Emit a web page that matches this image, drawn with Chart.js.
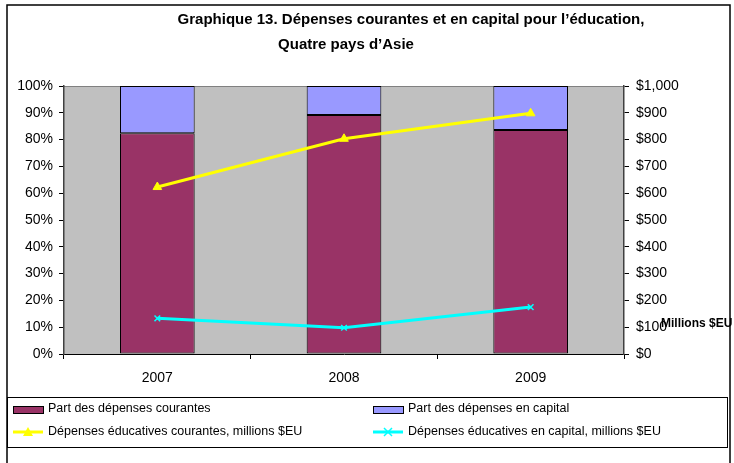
<!DOCTYPE html>
<html><head><meta charset="utf-8">
<script src="https://cdn.jsdelivr.net/npm/chart.js@4/dist/chart.umd.min.js"></script>
<style>html,body{margin:0;padding:0;background:#fff}#w{position:relative;width:734px;height:463px}</style>
</head><body><div id="w"><canvas id="c" width="734" height="463"></canvas></div>
<script>
const years = ['2007', '2008', '2009'];
const shareCurrent = [82.4, 89.2, 83.6];
const shareCapital = [17.6, 10.8, 16.4];
const spendCurrent = [623, 803, 898];
const spendCapital = [133, 98, 175];
const titleLines = ['Graphique 13. Dépenses courantes et en capital pour l\u2019éducation,', 'Quatre pays d\u2019Asie'];
const seriesLabels = ['Part des dépenses courantes', 'Part des dépenses en capital', 'Dépenses éducatives courantes, millions $EU', 'Dépenses éducatives en capital, millions $EU'];
const rightAxisTitle = 'Millions $EU';

const FONT = "'Liberation Sans', Arial, sans-serif";

const decor = {
  id: 'decor',
  beforeDraw(chart) {
    const {ctx, chartArea: a} = chart;
    ctx.save();
    ctx.fillStyle = '#C0C0C0';
    ctx.fillRect(a.left, a.top, a.right - a.left, a.bottom - a.top);
    ctx.strokeStyle = '#808080';
    ctx.lineWidth = 1;
    ctx.beginPath();
    ctx.moveTo(a.left, a.top + 0.5);
    ctx.lineTo(a.right, a.top + 0.5);
    ctx.stroke();
    ctx.restore();
  },
  afterDraw(chart) {
    const {ctx} = chart;
    ctx.save();
    // outer frame
    ctx.strokeStyle = '#000';
    ctx.lineWidth = 1.5;
    ctx.strokeRect(7, 5, 723, 500);
    // title
    ctx.fillStyle = '#000';
    ctx.font = 'bold 15px ' + FONT;
    ctx.textBaseline = 'middle';
    ctx.textAlign = 'center';
    ctx.fillText(titleLines[0], 411, 20);
    ctx.fillText(titleLines[1], 346, 45);
    // right axis title
    ctx.font = 'bold 12px ' + FONT;
    ctx.textAlign = 'left';
    ctx.fillText(rightAxisTitle, 661, 324);
    // legend box
    ctx.lineWidth = 1;
    ctx.strokeStyle = '#000';
    ctx.strokeRect(7.5, 397.5, 720, 50);
    const ds = chart.data.datasets;
    const cols = [13, 373];
    const rows = [409, 432];
    ctx.font = '12.5px ' + FONT;
    ctx.textBaseline = 'middle';
    for (let i = 0; i < 4; i++) {
      const x = cols[i % 2], y = rows[Math.floor(i / 2)];
      const d = ds[i];
      if (d.type === 'line') {
        ctx.strokeStyle = d.borderColor;
        ctx.lineWidth = 3;
        ctx.beginPath();
        ctx.moveTo(x, y); ctx.lineTo(x + 30, y); ctx.stroke();
        ctx.fillStyle = d.borderColor;
        if (d.pointStyle === 'triangle') {
          ctx.beginPath();
          ctx.moveTo(x + 15, y - 5); ctx.lineTo(x + 20, y + 4); ctx.lineTo(x + 10, y + 4); ctx.closePath(); ctx.fill();
        } else {
          ctx.lineWidth = 1.5;
          ctx.beginPath();
          ctx.moveTo(x + 11, y - 4); ctx.lineTo(x + 19, y + 4);
          ctx.moveTo(x + 19, y - 4); ctx.lineTo(x + 11, y + 4);
          ctx.stroke();
        }
      } else {
        ctx.fillStyle = d.backgroundColor;
        ctx.fillRect(x, y - 3, 30, 7);
        ctx.strokeStyle = '#000';
        ctx.lineWidth = 1;
        ctx.strokeRect(x + 0.5, y - 2.5, 30, 7);
      }
      ctx.fillStyle = '#000';
      ctx.textAlign = 'left';
      ctx.fillText(d.label, x + 35, y);
    }
    ctx.restore();
  }
};

new Chart(document.getElementById('c'), {
  type: 'bar',
  data: {
    labels: years,
    datasets: [
      {label: seriesLabels[0], data: shareCurrent, backgroundColor: '#993366', borderColor: '#000', borderWidth: 1, yAxisID: 'y', stack: 's', order: 2, borderSkipped: false},
      {label: seriesLabels[1], data: shareCapital, backgroundColor: '#9999FF', borderColor: '#000', borderWidth: 1, yAxisID: 'y', stack: 's', order: 2, borderSkipped: false},
      {type: 'line', label: seriesLabels[2], data: spendCurrent, borderColor: '#FFFF00', backgroundColor: '#FFFF00', borderWidth: 3, pointStyle: 'triangle', pointRadius: 5, pointBorderWidth: 1, yAxisID: 'y1', order: 0, tension: 0},
      {type: 'line', label: seriesLabels[3], data: spendCapital, borderColor: '#00FFFF', backgroundColor: '#00FFFF', borderWidth: 3, pointStyle: 'crossRot', pointRadius: 4, pointBorderWidth: 1.5, yAxisID: 'y1', order: 0, tension: 0}
    ]
  },
  options: {
    responsive: false,
    animation: false,
    devicePixelRatio: 1,
    layout: {padding: {top: 86, bottom: 79, left: 0, right: 0}},
    plugins: {legend: {display: false}, title: {display: false}, tooltip: {enabled: false}},
    datasets: {bar: {categoryPercentage: 1, barPercentage: 0.4}},
    scales: {
      x: {
        stacked: true,
        grid: {display: true, drawOnChartArea: false, tickLength: 5, color: '#000', offset: true},
        border: {color: '#000', width: 1},
        ticks: {color: '#000', font: {family: FONT, size: 14}, padding: 11},
        afterFit(s) { s.height = 30; }
      },
      y: {
        stacked: true, min: 0, max: 100,
        grid: {display: true, drawOnChartArea: false, tickLength: 5, color: '#000'},
        border: {color: '#404040', width: 1.5},
        ticks: {stepSize: 10, color: '#000', font: {family: FONT, size: 14}, padding: 6, callback: v => v + '%'},
        afterFit(s) { s.width = 64; }
      },
      y1: {
        position: 'right', min: 0, max: 1000,
        grid: {display: true, drawOnChartArea: false, tickLength: 5, color: '#000'},
        border: {color: '#404040', width: 1.5},
        ticks: {stepSize: 100, color: '#000', font: {family: FONT, size: 14}, padding: 7, callback: v => '$' + v.toLocaleString('en-US')},
        afterFit(s) { s.width = 110; }
      }
    }
  },
  plugins: [decor]
});
</script></body></html>
